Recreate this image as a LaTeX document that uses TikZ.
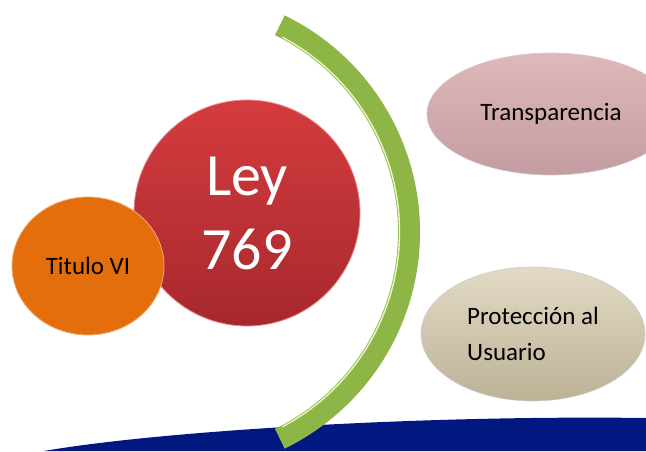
\documentclass[tikz,border=0pt]{standalone}
\usepackage{fontspec}
\setmainfont{Carlito}
\usetikzlibrary{shapes.geometric}

\definecolor{navyband}{RGB}{0,24,128}
\definecolor{leaf}{RGB}{141,182,70}
\definecolor{leaflight}{RGB}{232,246,196}
\definecolor{leydark}{RGB}{166,40,44}
\definecolor{leylight}{RGB}{212,60,63}
\definecolor{tituloorange}{RGB}{228,110,12}
\definecolor{rosetop}{RGB}{222,184,187}
\definecolor{rosebot}{RGB}{196,156,161}
\definecolor{sandtop}{RGB}{226,218,196}
\definecolor{sandbot}{RGB}{188,178,150}

\begin{document}
\begin{tikzpicture}[x=1pt,y=1pt]
\tikzstyle{bubble}=[ellipse,inner sep=0pt,line width=0.8pt]
\tikzstyle{oval}=[ellipse,inner sep=0pt,text=black,draw=white!60!gray,line width=0.6pt,font=\fontsize{25}{36}\selectfont]
\useasboundingbox (0,0) rectangle (646,451);
\clip (0,0) rectangle (646,451);
% band at the bottom
\fill[navyband] (44,0) .. controls (160,20) and (420,36) .. (646,33) -- (646,0) -- cycle;
% green arc
\coordinate (hub) at (179,219);
\fill[leaf] ([shift={(-64:219)}]hub) arc[start angle=-64,end angle=64,radius=219]
    -- ([shift={(64:241)}]hub) arc[start angle=64,end angle=-64,radius=241] -- cycle;
\draw[leaflight,line width=1.4pt] ([shift={(-62:220.5)}]hub) arc[start angle=-62,end angle=62,radius=220.5];
% circles
\node [bubble,minimum width=226pt,minimum height=226pt,top color=leylight,bottom color=leydark,
       draw=leylight!60!white,text=white,align=center,font=\fontsize{60}{74}\selectfont] (ley) at (247,238) {Ley\\769};
\node [bubble,minimum width=152pt,minimum height=138pt,fill=tituloorange,
       draw=tituloorange!55!white,font=\fontsize{25}{30}\selectfont] (titulo) at (88,185) {Titulo VI};
% ovals on the right
\node [oval,minimum width=248pt,minimum height=122pt,top color=rosetop,bottom color=rosebot] (transparencia) at (551,337) {Transparencia};
\node [oval,minimum width=224pt,minimum height=134pt,top color=sandtop,bottom color=sandbot,align=left] (proteccion) at (533,117) {Protección al\\Usuario};
\end{tikzpicture}
\end{document}
